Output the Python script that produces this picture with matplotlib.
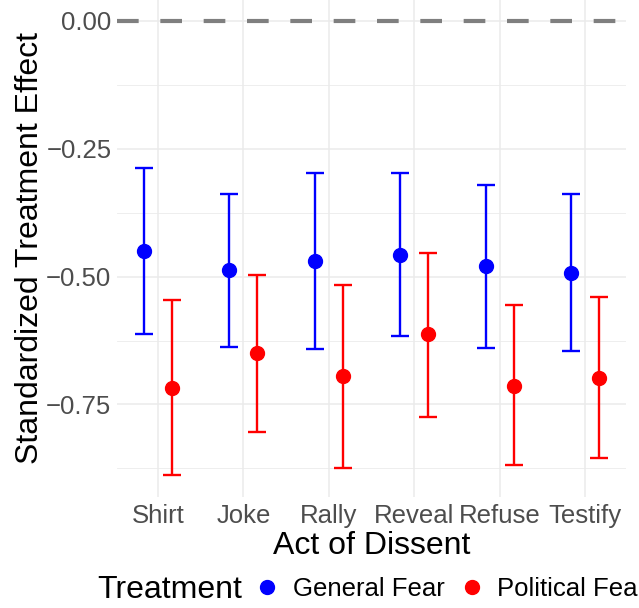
import matplotlib
matplotlib.use('Agg')
import matplotlib.pyplot as plt
from matplotlib.lines import Line2D

plt.rcParams['font.family'] = ['Liberation Sans', 'DejaVu Sans']

acts = ['Shirt', 'Joke', 'Rally', 'Reveal', 'Refuse', 'Testify']

general_est = [-0.449, -0.488, -0.470, -0.458, -0.480, -0.492]
general_hi = [-0.287, -0.339, -0.298, -0.298, -0.321, -0.338]
general_lo = [-0.612, -0.637, -0.641, -0.617, -0.639, -0.645]

political_est = [-0.718, -0.650, -0.695, -0.613, -0.713, -0.698]
political_hi = [-0.545, -0.496, -0.516, -0.453, -0.555, -0.540]
political_lo = [-0.887, -0.803, -0.874, -0.774, -0.869, -0.854]

yticks = [0.0, -0.25, -0.5, -0.75]
ytick_labels = ['0.00', '\u22120.25', '\u22120.50', '\u22120.75']

fig = plt.figure(figsize=(6.39, 6.08), dpi=100)
ax = fig.add_axes([117/639, 1 - 497/608, (626 - 117)/639, 497/608])

x = list(range(1, len(acts) + 1))
dodge = 0.165
series = [
    ('General Fear', 'blue', -dodge, general_est, general_lo, general_hi),
    ('Political Fear', 'red', dodge, political_est, political_lo, political_hi),
]
for name, col, off, est, lo, hi in series:
    xs = [v + off for v in x]
    yerr = [[e - l for e, l in zip(est, lo)], [h - e for e, h in zip(est, hi)]]
    ax.errorbar(xs, est, yerr=yerr, fmt='o', color=col, ecolor=col,
                elinewidth=1.7, capsize=6.8, capthick=1.7, markersize=10,
                zorder=3)

ax.axhline(0, color='#7F7F7F', linewidth=3, dashes=(5.2, 5.2), zorder=2)

ax.set_xlim(0.52, 6.48)
ax.set_ylim(-0.931, 0.041)
ax.set_xticks(x)
ax.set_xticklabels(acts)
ax.set_yticks(yticks)
ax.set_yticklabels(ytick_labels)
ax.set_yticks([-0.125, -0.375, -0.625, -0.875], minor=True)
ax.set_axisbelow(True)
ax.grid(True, which='major', color='#EBEBEB', linewidth=1.1)
ax.grid(True, which='minor', axis='y', color='#EBEBEB', linewidth=0.6)
for s in ax.spines.values():
    s.set_visible(False)
ax.tick_params(which='both', length=0, labelsize=18.5, colors='#4D4D4D', pad=4)
ax.tick_params(axis='x', pad=5)

ax.set_ylabel('Standardized Treatment Effect', fontsize=23, color='black', labelpad=1)
ax.set_xlabel('Act of Dissent', fontsize=23, color='black', labelpad=2)

fig.text(97/639, 1 - 590/608, 'Treatment', fontsize=23, va='center', ha='left')
handles = [Line2D([], [], marker='o', linestyle='none', color='blue', markersize=10),
           Line2D([], [], marker='o', linestyle='none', color='red', markersize=10)]
fig.legend(handles, ['General Fear', 'Political Fear'], ncol=2, frameon=False,
           loc='center left', bbox_to_anchor=(252/639, 1 - 589/608),
           fontsize=18.5, handletextpad=0.39, columnspacing=0.45,
           handlelength=1.2, borderaxespad=0, borderpad=0)

fig.savefig('out.png', dpi=100)
